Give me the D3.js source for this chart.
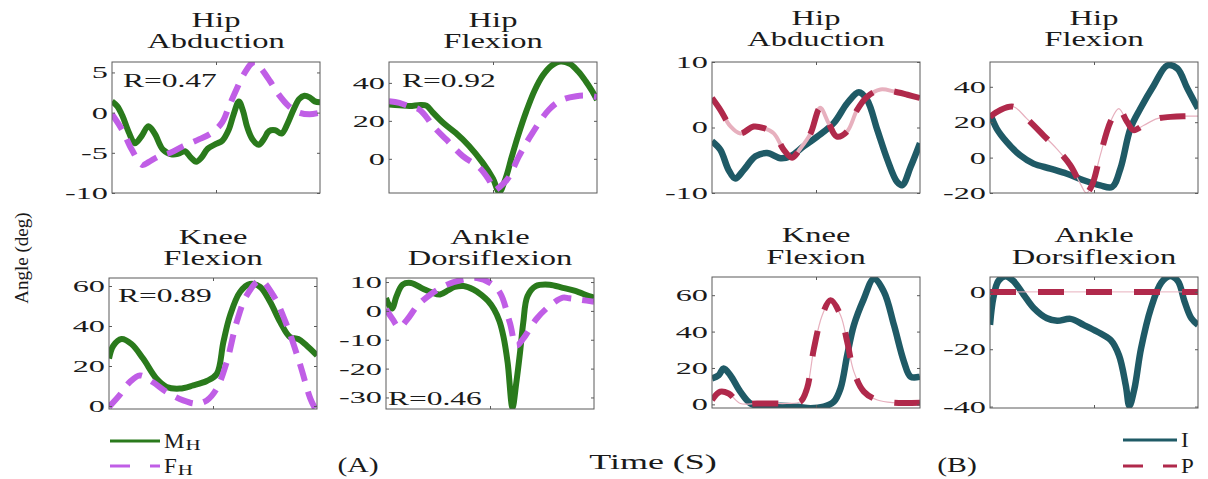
<!DOCTYPE html>
<html>
<head>
<meta charset="UTF-8">
<title>joint angles</title>
<style>
  body { margin: 0; background: #fff; }
  svg { display: block; }
  text { font-family: "Liberation Serif", "Times New Roman", serif; fill: #1a1a1a; }
  .frame { fill: none; stroke: #5a5a5a; stroke-width: 1; }
  .tick line { stroke: #5a5a5a; }
</style>
</head>
<body>
<svg id="chart" width="1208" height="479"></svg>
<script src="https://cdnjs.cloudflare.com/ajax/libs/d3/7.8.5/d3.min.js"></script>
<script>
// ---- data: [percent of cycle, angle in deg] ----
const hipAbdM = [[0,1.4],[2.5,0.8],[5,-0.4],[8,-2.4],[11,-3.8],[14,-3.0],[17.5,-1.7],[20.5,-2.6],[24.5,-4.6],[29,-5.2],[32,-5.1],[35,-4.8],[38,-5.6],[40.5,-6.1],[43,-5.6],[46,-4.5],[50,-3.9],[53,-3.5],[56,-2.2],[58.5,-0.2],[61,1.4],[63,0.2],[65,-1.8],[67.5,-3.3],[70.5,-4.0],[73,-3.3],[75.5,-2.3],[78.5,-2.2],[81.5,-2.6],[84.5,-1.3],[87.5,0.5],[90,1.7],[92.5,2.1],[95,1.9],[97.5,1.4],[100,1.3]];
const hipAbdF = [[0,-0.2],[5,-2.2],[9.5,-4.6],[14.5,-6.5],[18,-6.1],[22,-5.5],[28,-5.0],[34,-4.2],[42,-3.3],[48,-2.5],[53,-1.2],[56,0.6],[59,2.4],[63,4.6],[67,6.1],[69,6.3],[72,5.4],[76,3.9],[80,2.3],[85,0.8],[90,0],[95,-0.2],[100,0]];
const hipFlexM = [[0,28.6],[5,28.2],[10,27.8],[15,28.4],[18,28],[21,24.5],[26,19],[32,13.7],[38.5,6.8],[45,-2],[50,-10.5],[53,-17.5],[56,-10.5],[59,1],[62,12],[66,25],[70,36],[74,44],[78,49],[82.5,51.3],[87,50],[91,46],[94.5,41],[97.5,36],[100,31]];
const hipFlexF = [[0,30.4],[5,29.5],[10,27.5],[14.5,26],[18,22],[21,17.5],[27.5,10.2],[35.5,1.4],[43.5,-4.7],[48,-11],[51,-16.5],[53,-15],[56,-12],[58,-9],[62.5,1.4],[69,13.7],[77,26],[83,31],[90,33],[95,33.3],[100,32.5]];
const kneeM = [[0,23.7],[2,30],[6,33.5],[10.8,31],[16.4,23.7],[22.8,13.7],[27.7,9.5],[34,8.7],[40.5,10.3],[47,12.5],[51.8,16],[55,32],[58.2,45.3],[63,57],[67.8,61],[72.7,59.5],[77.5,52],[82.3,42],[87,34.5],[91,33.5],[95,30.3],[100,25.3]];
const kneeF = [[0,-0.5],[5,5.3],[10,12],[14.8,15.3],[21,12],[27.7,7],[35.7,2.8],[42,1.2],[47,2.8],[51.8,8.7],[56.6,22],[61.4,42],[66.2,55.3],[72.7,62.8],[79,55.3],[85.5,40.3],[92,20.3],[96.8,3.7],[100,-3]];
const ankleM = [[0,4.5],[1.5,2],[3,0.8],[5,5],[8,9.1],[12,9.7],[18,7.6],[22,6.4],[26,5.7],[30,7.2],[33,8.3],[37.3,8.6],[42,7.4],[46,5.5],[49,3.5],[52,0.5],[54.5,-3.5],[56.5,-9],[58.5,-18],[60.8,-33.5],[62.7,-24.6],[64.5,-14],[66,-4],[68,5.1],[72,8.6],[78.6,9.1],[85,8],[91,6.9],[97.6,5.1],[100,4.6]];
const ankleF = [[0,0.6],[3.2,-2.9],[6.3,-5.7],[10.3,-2.9],[15,1.7],[21.4,5.7],[29.4,9.1],[37.3,10.9],[43.7,11.4],[50,9.7],[54.8,6.3],[59.5,-4],[62.7,-12],[65.9,-9.7],[72.2,-2.9],[78.6,1.7],[85,4.6],[88,4.4],[94,3.8],[100,3.2]];

const hipAbdI = [[0,-2.1],[4,-3.4],[8,-6.5],[11.2,-7.8],[15.2,-6.5],[20.9,-4.4],[26.5,-3.9],[32.9,-4.7],[37.7,-4.4],[44,-2.9],[50.6,-1.4],[58.6,0.7],[65,3.7],[70.6,5.4],[74.6,4.2],[79.5,-0.4],[84.3,-4.9],[89,-8.3],[91.5,-8.8],[95.5,-6],[100,-2.4]];
const hipAbdP = [[0,4.5],[4,2.7],[8.8,0.2],[13.6,-0.9],[20,0.15],[25,-0.1],[29.7,-0.9],[34.5,-3.4],[38.5,-4.6],[42.5,-3.2],[47.4,-0.9],[52,3],[56,0.7],[60,-1.4],[65,-0.6],[69.8,2.7],[74.6,4.7],[81,5.8],[87.5,5.5],[94,5],[100,4.5]];
const hipFlexI = [[0,24.9],[3.2,16.4],[8,8.9],[14.5,1.3],[20.9,-3.4],[29,-6.2],[37,-9.1],[45,-12.8],[53,-15.7],[58.7,-16.6],[62.7,-6.2],[67.5,16.4],[72.3,27.7],[78.8,40.9],[85.2,52],[90,50.4],[94.9,39],[100,27.7]];
const hipFlexP = [[0,23],[4.8,26.8],[11.3,28.7],[17.7,22],[25.7,12.6],[32,5.1],[38.6,-4.3],[43.4,-14.7],[46.3,-20],[49,-15.7],[53,1.3],[57.9,20.2],[61.9,27.7],[65.9,20.2],[69,15.5],[74,18.3],[80.4,22],[86.8,23],[93,23.4],[100,23.4]];
const kneeI = [[0,14.3],[3.2,16],[5.6,19.7],[8.8,16],[13.6,7],[18.5,0.5],[24.9,-1.3],[32.9,-0.7],[41,-1.3],[47.4,-2.2],[53.8,-1.3],[58.6,1.5],[61.8,8.8],[65,27],[68.2,43.5],[73,58],[77.8,69],[82.7,61.8],[87.5,43.5],[92.3,23.4],[95.5,15.2],[100,15.2]];
const kneeP = [[0,2.4],[4,7],[8,6],[13.6,0.5],[21.7,0.5],[29.7,0.5],[36,0.5],[42.5,1.5],[45.7,8.8],[49,30.7],[53,49],[57,57.2],[61.8,49],[65,34.4],[68.2,18],[73,7],[79.5,2.4],[87.5,0.9],[100,0.9]];
const ankleI = [[0,-11.5],[1.6,-2.1],[4,3.8],[7.3,5.5],[11.3,3.8],[16.1,-0.9],[21,-5.6],[27.4,-9.2],[32.3,-10.1],[38.7,-9.4],[45,-11.5],[51.6,-13.9],[58,-16.8],[62,-22.1],[65.3,-32.7],[67,-39.8],[69.4,-33.9],[72.6,-19.8],[77.4,-5.6],[82.3,3.2],[86.3,5.5],[90.3,3.8],[93.5,-3.3],[96.8,-9.2],[100,-11.5]];
const ankleP = [[0,0],[100,0]];

const titles = [["Hip","Abduction"],["Hip","Flexion"],["Hip","Abduction"],["Hip","Flexion"],
                ["Knee","Flexion"],["Ankle","Dorsiflexion"],["Knee","Flexion"],["Ankle","Dorsiflexion"]];
const yLimits = [[-10,6.3],[-18,51],[-10,10],[-20,54],[-1.5,64],[-34,11.4],[-2,70],[-40.5,5.2]];
const yTicks = [[-10,-5,0,5],[0,20,40],[-10,0,10],[-20,0,20,40],[0,20,40,60],[-30,-20,-10,0,10],[0,20,40,60],[-40,-20,0]];
const rLabels = ["R=0.47","R=0.92",null,null,"R=0.89","R=0.46",null,null];
const series = [[hipAbdM,hipAbdF],[hipFlexM,hipFlexF],[hipAbdI,hipAbdP],[hipFlexI,hipFlexP],
                [kneeM,kneeF],[ankleM,ankleF],[kneeI,kneeP],[ankleI,ankleP]];
const legendA = ["M","F"], legendB = ["I","P"];

// ---- layout ----
const svg = d3.select("#chart");
const W = 208, H = 131;
const boxes = [[112,62],[389,62],[712,62],[990,62],[109,278],[386,278],[712,277],[990,277]];
const titleY = [[27,48],[27,48],[25,46],[25,46],[244,265],[244,265],[242,264],[242,264]];
const rPos = [[11,25],[13,25],null,null,[9,24],[2,127],null,null];
const tickStretch = 1.9, titleStretch = 1.55, rStretch = 1.75;

const styleA = [
  {stroke:"#2a7a1c", width:6},
  {stroke:"#c05ee6", width:6, dash:"18,11"}
];
const styleB = [
  {stroke:"#1f5a66", width:6.5},
  {stroke:"#b0294b", width:6, dash:"26,22", under:"#e7b0be"}
];
const underW = [0,0,4,1.2,0,0,1.2,1];

const x = d3.scaleLinear().domain([0,100]).range([0,W]);

boxes.forEach(([bx,by],i) => {
  const g = svg.append("g").attr("transform", `translate(${bx},${by})`);
  const y = d3.scaleLinear().domain(yLimits[i]).range([H,0]);
  const isB = (i % 4) >= 2;
  const st = isB ? styleB : styleA;

  g.append("clipPath").attr("id","clip"+i)
    .append("rect").attr("width",W).attr("height",H);

  const line = d3.line().x(d => x(d[0])).y(d => y(d[1])).curve(d3.curveCatmullRom.alpha(0.5));
  const plot = g.append("g").attr("clip-path",`url(#clip${i})`);
  series[i].forEach((s,k) => {
    const sty = st[k];
    if (sty.under && underW[i] > 0) {
      plot.append("path").attr("d", line(s)).attr("fill","none")
        .attr("stroke", sty.under).attr("stroke-width", underW[i]);
    }
    plot.append("path").attr("d", line(s)).attr("fill","none")
      .attr("stroke", sty.stroke).attr("stroke-width", sty.width)
      .attr("stroke-dasharray", sty.dash || null)
      .attr("stroke-linejoin","round");
  });

  // axes with inward ticks
  const yl = g.append("g")
    .call(d3.axisLeft(y).tickValues(yTicks[i]).tickSize(-3).tickPadding(0).tickFormat(d => d));
  yl.attr("font-family",null).attr("font-size",null);
  yl.select(".domain").remove();
  yl.selectAll("text").attr("x", -4 / tickStretch).attr("transform", `scale(${tickStretch},1)`)
    .style("font-size","17px").attr("fill","#1a1a1a");
  const yr = g.append("g").attr("transform",`translate(${W},0)`)
    .call(d3.axisRight(y).tickValues(yTicks[i]).tickSize(-3).tickFormat(""));
  yr.select(".domain").remove();
  const xb = g.append("g").attr("transform",`translate(0,${H})`)
    .call(d3.axisBottom(x).tickValues([50]).tickSize(-3).tickFormat(""));
  xb.select(".domain").remove();
  const xt = g.append("g").call(d3.axisTop(x).tickValues([50]).tickSize(-3).tickFormat(""));
  xt.select(".domain").remove();

  g.append("rect").attr("class","frame").attr("width",W).attr("height",H);

  // title
  titles[i].forEach((t,k) => {
    svg.append("text").attr("transform",`translate(${bx + W/2},${titleY[i][k]}) scale(${titleStretch},1)`)
      .attr("text-anchor","middle").style("font-size","21px").text(t);
  });

  if (rLabels[i]) {
    g.append("text").attr("transform",`translate(${rPos[i][0]},${rPos[i][1]}) scale(${rStretch},1)`)
      .style("font-size","18px").text(rLabels[i]);
  }
});

// y label
svg.append("text").attr("transform","translate(28,258) rotate(-90)")
  .attr("text-anchor","middle").style("font-size","19px").text("Angle (deg)");

// bottom texts
svg.append("text").attr("transform","translate(653,469) scale(1.8,1)")
  .attr("text-anchor","middle").style("font-size","20px").text("Time (S)");
svg.append("text").attr("transform","translate(358,472) scale(1.35,1)")
  .attr("text-anchor","middle").style("font-size","22px").text("(A)");
svg.append("text").attr("transform","translate(957,472) scale(1.35,1)")
  .attr("text-anchor","middle").style("font-size","22px").text("(B)");

// legends
function legendItem(x0, x1, yy, sty, label, sub) {
  svg.append("line").attr("x1",x0).attr("x2",x1).attr("y1",yy).attr("y2",yy)
    .attr("stroke",sty.stroke).attr("stroke-width",3.2)
    .attr("stroke-dasharray", sty.dash ? "20,20" : null);
  const t = svg.append("text").attr("transform",`translate(${x1 + 4},${yy + 7}) scale(1.15,1)`)
    .style("font-size","20px").text(label);
  if (sub) {
    const w = t.node().getComputedTextLength() * 1.15;
    svg.append("text").attr("transform",`translate(${x1 + 5 + w},${yy + 9}) scale(1.5,1)`)
      .style("font-size","14px").text(sub);
  }
}
legendItem(110, 160, 441, styleA[0], legendA[0], "H");
legendItem(110, 160, 466, styleA[1], legendA[1], "H");
legendItem(1123, 1177, 440, styleB[0], legendB[0], null);
legendItem(1123, 1177, 466, styleB[1], legendB[1], null);
</script>
</body>
</html>
